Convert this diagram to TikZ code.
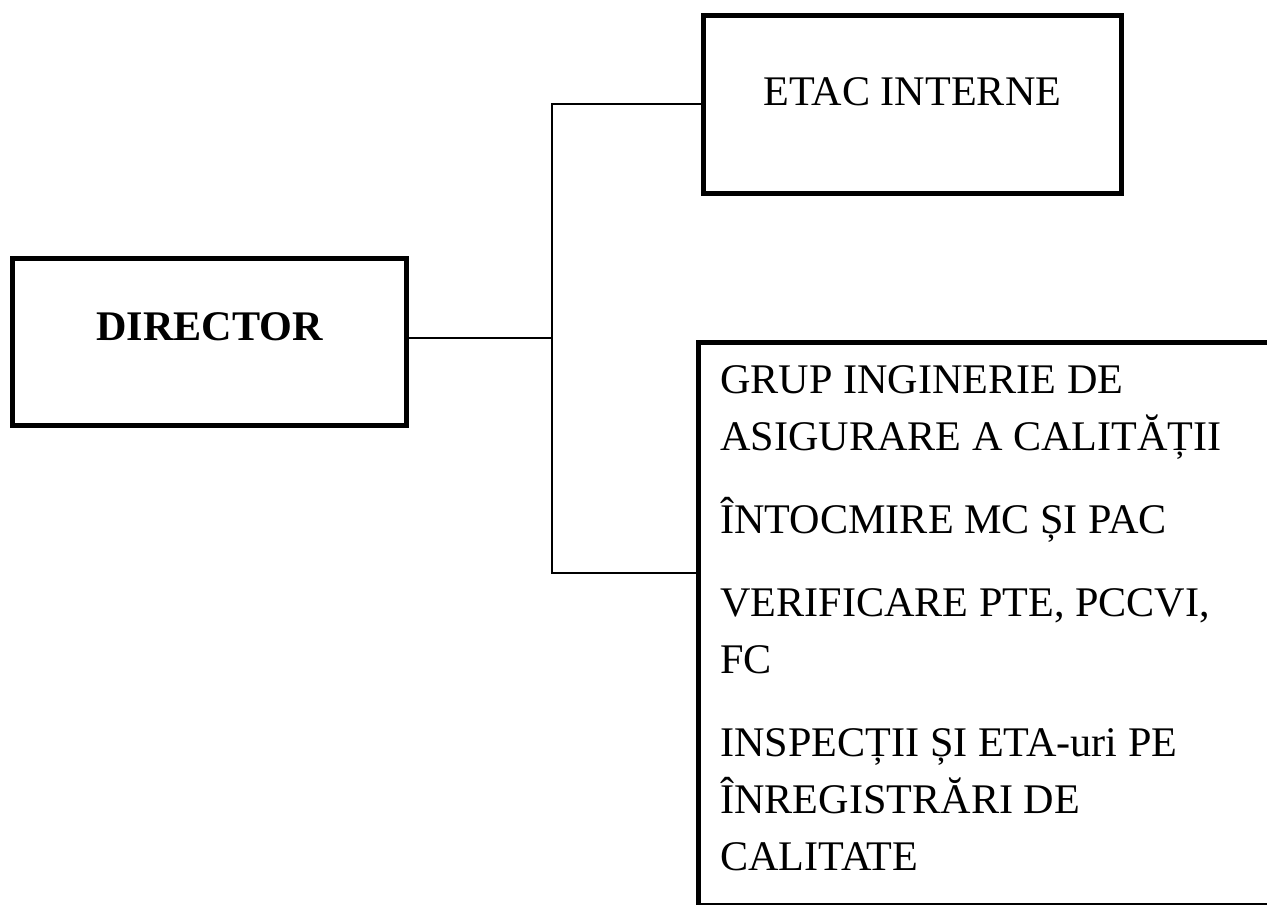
\documentclass[tikz,border=0pt]{standalone}
\usepackage{fontspec}
\setmainfont{Liberation Serif}

\begin{document}
\begin{tikzpicture}[x=0.02cm,y=-0.02cm,
    box/.style={draw,line width=0.1cm,inner sep=0pt},
    link/.style={line width=0.04cm},
    lbl/.style={font=\fontsize{24}{32.4}\selectfont}]
  \useasboundingbox (0,0) rectangle (1267,905);
  % boxes
  \node[box,lbl,font=\fontsize{24}{32.4}\selectfont\bfseries,minimum width=7.9cm,minimum height=3.36cm,
        text height=0.58cm,text depth=0.66cm] (dir) at (209.5,342) {DIRECTOR};
  \node[box,lbl,minimum width=8.38cm,minimum height=3.58cm,
        text height=0.56cm,text depth=0.5cm] (etac) at (912.5,104.5) {ETAC INTERNE};
  \node[box,minimum width=12.08cm,minimum height=11.26cm,anchor=north west] (qa) at (696,340) {};
  \node[lbl,align=left,inner sep=0pt,anchor=north west] (qatext) at (720,365)
    {GRUP INGINERIE DE\\
     ASIGURARE A CALITĂȚII\\[15pt]
     ÎNTOCMIRE MC ȘI PAC\\[15pt]
     VERIFICARE PTE, PCCVI,\\
     FC\\[15pt]
     INSPECȚII ȘI ETA-uri PE\\
     ÎNREGISTRĂRI DE\\
     CALITATE};
  % connectors
  \coordinate (jn) at (552,338);
  \coordinate (qajoin) at (qa.west |- 0,573);
  \draw[link] (dir.east |- jn) -- (jn);
  \draw[link] (etac.west) -| (jn) |- (qajoin);
\end{tikzpicture}
\end{document}
